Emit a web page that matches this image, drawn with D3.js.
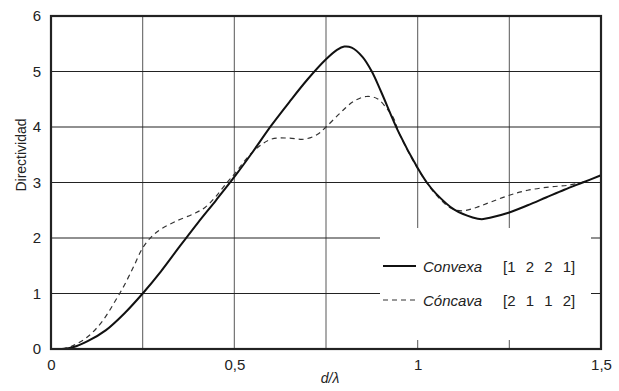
<!DOCTYPE html>
<html>
<head>
<meta charset="utf-8">
<script src="https://cdn.jsdelivr.net/npm/d3@7/dist/d3.min.js"></script>
<style>
  html, body { margin: 0; padding: 0; background: #fff; }
  svg { display: block; }
  text { font-family: "Liberation Sans", Arial, Helvetica, sans-serif; fill: #222; }
</style>
</head>
<body>
<svg id="chart" width="619" height="391"></svg>
<script>
// Directivity versus element spacing d/λ for two 4-element arrays
const convexaD = [0.03, 0.06, 0.10, 0.15, 0.20, 0.25, 0.30, 0.35, 0.40, 0.45, 0.50, 0.55, 0.60, 0.65, 0.70, 0.75, 0.78, 0.80, 0.82, 0.85, 0.875, 0.90, 0.95, 1.00, 1.025, 1.05, 1.10, 1.15, 1.175, 1.20, 1.25, 1.30, 1.35, 1.40, 1.45, 1.50];
const convexaV = [0.00, 0.03, 0.14, 0.34, 0.64, 1.00, 1.40, 1.84, 2.27, 2.68, 3.10, 3.55, 4.02, 4.45, 4.86, 5.22, 5.39, 5.45, 5.43, 5.26, 5.00, 4.64, 3.88, 3.26, 3.00, 2.80, 2.51, 2.37, 2.34, 2.37, 2.46, 2.59, 2.73, 2.87, 3.00, 3.13];

const concavaD = [0.03, 0.06, 0.10, 0.14, 0.18, 0.20, 0.225, 0.25, 0.275, 0.30, 0.34, 0.39, 0.42, 0.45, 0.48, 0.50, 0.55, 0.60, 0.65, 0.69, 0.725, 0.75, 0.79, 0.825, 0.86, 0.89, 0.915, 0.935, 0.95, 1.00, 1.05, 1.09, 1.12, 1.16, 1.20, 1.25, 1.30, 1.36, 1.41, 1.46];
const concavaV = [0.00, 0.06, 0.22, 0.50, 0.92, 1.15, 1.48, 1.82, 2.03, 2.16, 2.30, 2.44, 2.55, 2.75, 3.00, 3.15, 3.55, 3.78, 3.80, 3.78, 3.86, 4.00, 4.26, 4.46, 4.55, 4.51, 4.34, 4.15, 3.88, 3.25, 2.78, 2.54, 2.49, 2.55, 2.65, 2.77, 2.86, 2.92, 2.95, 3.02];

const xTickValues = [0, 0.5, 1, 1.5];
const xTickLabels = ["0", "0,5", "1", "1,5"];
const xGridValues = [0.25, 0.5, 0.75, 1, 1.25];
const yTickValues = [0, 1, 2, 3, 4, 5, 6];
const yGridValues = [1, 2, 3, 4, 5];

const seriesNames = ["Convexa", "Cóncava"];
const seriesWeights = ["[1 2 2 1]", "[2 1 1 2]"];

const svg = d3.select("#chart");
const plotLeft = 51, plotRight = 601, plotTop = 16, plotBottom = 349;

const x = d3.scaleLinear().domain([0, 1.5]).range([plotLeft, plotRight]);
const y = d3.scaleLinear().domain([0, 6]).range([plotBottom, plotTop]);

// grid
svg.append("g").selectAll("line").data(xGridValues).join("line")
  .attr("x1", d => x(d)).attr("x2", d => x(d))
  .attr("y1", plotTop).attr("y2", plotBottom)
  .attr("stroke", "#666").attr("stroke-width", 1.1);
svg.append("g").selectAll("line").data(yGridValues).join("line")
  .attr("x1", plotLeft).attr("x2", plotRight)
  .attr("y1", d => y(d)).attr("y2", d => y(d))
  .attr("stroke", "#222").attr("stroke-width", 1.1);

// legend background
const lg = svg.append("g");
lg.append("rect")
  .attr("x", 380).attr("y", 228).attr("width", 211).attr("height", 112)
  .attr("fill", "#fff");

// curves
const line = d3.line().curve(d3.curveCatmullRom.alpha(0.5)).x(d => x(d[0])).y(d => y(d[1]));
const convexa = convexaD.map((d, i) => [d, convexaV[i]]);
const concava = concavaD.map((d, i) => [d, concavaV[i]]);

svg.append("path").datum(concava).attr("d", line)
  .attr("fill", "none").attr("stroke", "#333").attr("stroke-width", 1.2)
  .attr("stroke-dasharray", "5,4");
svg.append("path").datum(convexa).attr("d", line)
  .attr("fill", "none").attr("stroke", "#111").attr("stroke-width", 2);

// frame
svg.append("rect")
  .attr("x", plotLeft).attr("y", plotTop)
  .attr("width", plotRight - plotLeft).attr("height", plotBottom - plotTop)
  .attr("fill", "none").attr("stroke", "#222").attr("stroke-width", 2.2);

// axes (labels only; grid and frame drawn above)
const xAxis = d3.axisBottom(x).tickValues(xTickValues)
  .tickFormat((d, i) => xTickLabels[i]).tickSize(0).tickPadding(10);
const gx = svg.append("g").attr("transform", `translate(0,${plotBottom})`).call(xAxis);
gx.select(".domain").remove();
gx.selectAll("text").attr("font-size", 15).style("font-family", "'Liberation Sans', Arial, sans-serif").attr("fill", "#222");

const yAxis = d3.axisLeft(y).tickValues(yTickValues).tickFormat(d3.format("d"))
  .tickSize(0).tickPadding(10);
const gy = svg.append("g").attr("transform", `translate(${plotLeft},0)`).call(yAxis);
gy.select(".domain").remove();
gy.selectAll("text").attr("font-size", 15).style("font-family", "'Liberation Sans', Arial, sans-serif").attr("fill", "#222");

// axis titles
svg.append("text")
  .attr("transform", "translate(26,155) rotate(-90)")
  .attr("text-anchor", "middle").attr("font-size", 14)
  .text("Directividad");
svg.append("text")
  .attr("x", 330).attr("y", 383).attr("text-anchor", "middle")
  .attr("font-size", 14).attr("font-style", "italic")
  .text("d/λ");

// legend entries
const rows = [{ y: 266, dash: null, w: 2, c: "#111" }, { y: 300, dash: "5,4", w: 1.2, c: "#333" }];
rows.forEach((r, i) => {
  lg.append("line")
    .attr("x1", 383).attr("x2", 416).attr("y1", r.y).attr("y2", r.y)
    .attr("stroke", r.c).attr("stroke-width", r.w)
    .attr("stroke-dasharray", r.dash);
  lg.append("text")
    .attr("x", 423).attr("y", r.y + 6)
    .attr("font-size", 15).attr("font-style", "italic")
    .text(seriesNames[i]);
  lg.append("text")
    .attr("x", 503).attr("y", r.y + 6)
    .attr("font-size", 15).style("word-spacing", "6px")
    .text(seriesWeights[i]);
});
</script>
</body>
</html>
